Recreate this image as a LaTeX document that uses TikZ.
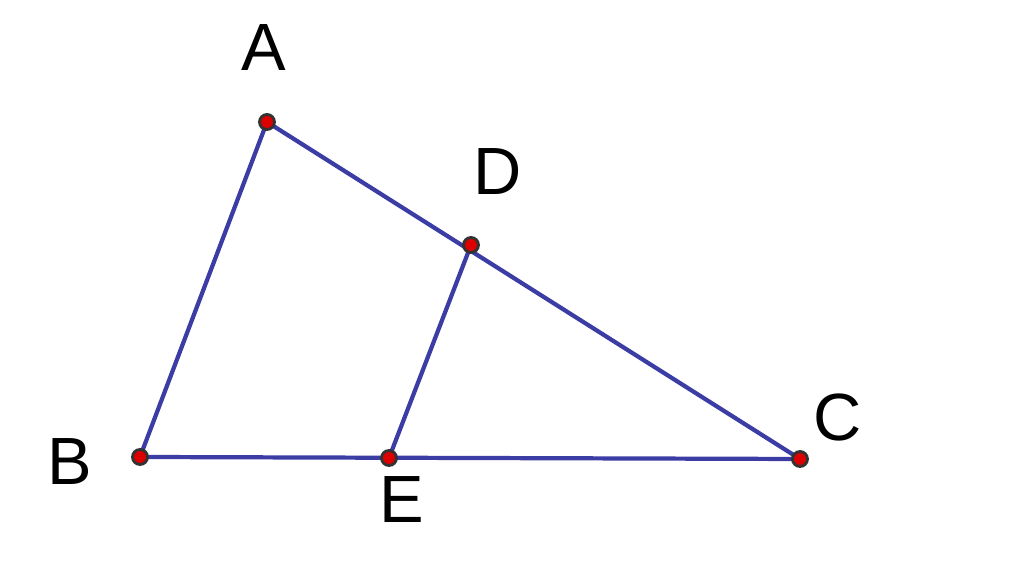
\documentclass[tikz,border=0pt]{standalone}
\usepackage{fontspec}
\setmainfont{Liberation Sans}
\definecolor{seg}{RGB}{60,60,165}
\definecolor{ptred}{RGB}{220,0,0}
\begin{document}
\begin{tikzpicture}[x=0.01cm,y=-0.01cm,
  segline/.style={draw=seg,line width=1.2pt},
  ptdot/.style={circle,fill=ptred,draw=black!80,line width=0.8pt,inner sep=0pt,minimum size=0.15cm},
  lbl/.style={font=\fontsize{19}{22}\selectfont,inner sep=0pt}]
\useasboundingbox (0,0) rectangle (1024,568);
\coordinate (A) at (267,122);
\coordinate (B) at (140,457);
\coordinate (C) at (800,459);
\coordinate (D) at (471,245);
\coordinate (E) at (389,458);
\draw[segline] (A) -- (B) -- (C) -- cycle;
\draw[segline] (D) -- (E);
\node[ptdot] (pA) at (A) {};
\node[ptdot] (pB) at (B) {};
\node[ptdot] (pC) at (C) {};
\node[ptdot] (pD) at (D) {};
\node[ptdot] (pE) at (E) {};
\node[lbl] (lA) at (264,48) {A};
\node[lbl] (lD) at (498,172) {D};
\node[lbl] (lC) at (838,418) {C};
\node[lbl] (lB) at (70,462) {B};
\node[lbl] (lE) at (402,500) {E};
\end{tikzpicture}
\end{document}
